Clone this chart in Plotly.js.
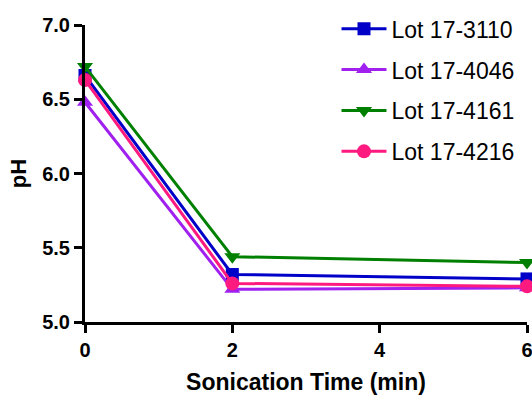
<!DOCTYPE html>
<html>
<head>
<meta charset="utf-8">
<script src="https://cdn.plot.ly/plotly-3.0.1.min.js"></script>
<style>html,body{margin:0;padding:0;background:#fff}#chart{width:532px;height:395px}</style>
</head>
<body>
<div id="chart"></div>
<script>
// Sonication time points (min)
const times = [0, 2, 6];

// pH readings per lot
const lotNames = ["Lot 17-3110", "Lot 17-4046", "Lot 17-4161", "Lot 17-4216"];
const ph3110 = [6.66, 5.32, 5.29];
const ph4046 = [6.48, 5.22, 5.23];
const ph4161 = [6.72, 5.44, 5.40];
const ph4216 = [6.63, 5.26, 5.24];

const xTicks = [0, 2, 4, 6];
const yTicks = [5.0, 5.5, 6.0, 6.5, 7.0];

const series = [
  {name: lotNames[0], y: ph3110, color: "#0000c8", symbol: "square", size: 13},
  {name: lotNames[1], y: ph4046, color: "#a020f0", symbol: "triangle-up", size: 14},
  {name: lotNames[2], y: ph4161, color: "#008000", symbol: "triangle-down", size: 14},
  {name: lotNames[3], y: ph4216, color: "#ff1a80", symbol: "circle", size: 14}
];

const traces = series.map((s, i) => ({
  type: "scatter",
  mode: "lines+markers",
  name: s.name,
  legendgroup: "g" + i,
  x: times,
  y: s.y,
  cliponaxis: false,
  line: {color: s.color, width: 3},
  marker: {color: s.color, symbol: s.symbol, size: s.size}
}));

const fam = "Liberation Sans, Arial, sans-serif";
const tickFont = {family: fam, size: 20, color: "#000", weight: "bold"};

const layout = {
  width: 532, height: 395,
  margin: {l: 85, r: 5, t: 25, b: 73},
  paper_bgcolor: "#fff", plot_bgcolor: "#fff",
  showlegend: true,
  legend: {
    x: 0.569, y: 1.06, xanchor: "left", yanchor: "top",
    font: {family: fam, size: 23, color: "#000"},
    tracegroupgap: 8, itemwidth: 45, bgcolor: "rgba(0,0,0,0)"
  },
  xaxis: {
    range: [0, 6], tickvals: xTicks, ticktext: xTicks.map(String),
    showgrid: false, zeroline: false, showline: true, linecolor: "#000", linewidth: 3,
    ticks: "outside", ticklen: 8, tickwidth: 3, tickcolor: "#000",
    tickfont: tickFont, ticklabeloverflow: "allow",
    title: {text: "Sonication Time (min)", font: {family: fam, size: 23, color: "#000", weight: "bold"}, standoff: 16}
  },
  yaxis: {
    range: [5, 7], tickvals: yTicks, ticktext: yTicks.map(v => v.toFixed(1)),
    showgrid: false, zeroline: false, showline: true, linecolor: "#000", linewidth: 3,
    ticks: "outside", ticklen: 8, tickwidth: 3, tickcolor: "#000",
    tickfont: tickFont,
    title: {text: "pH", font: {family: fam, size: 22, color: "#000", weight: "bold"}, standoff: 10}
  }
};

Plotly.newPlot("chart", traces, layout, {displayModeBar: false, staticPlot: true});
</script>
</body>
</html>
